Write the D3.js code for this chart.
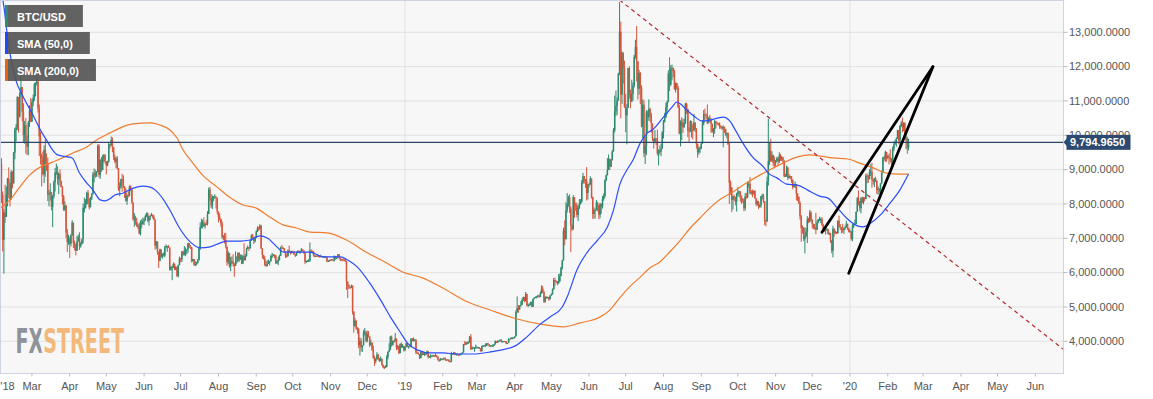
<!DOCTYPE html>
<html><head><meta charset="utf-8">
<script src="https://cdn.jsdelivr.net/npm/d3@7"></script>
<style>
html,body{margin:0;padding:0;background:#fff;}
svg{display:block;font-family:"Liberation Sans",Arial,sans-serif;}
</style></head><body>
<svg id="c" width="1153" height="399"></svg>
<script>
// ---------------- DATA ----------------
// Daily BTC/USD candles, one block per calendar month. First block starts 2018-02-03.
// Open of each day = previous day's close (24/7 market); first open given below.
const firstOpen = 8852;
const monthKeys = ["2018-02","2018-03","2018-04","2018-05","2018-06","2018-07","2018-08","2018-09","2018-10","2018-11","2018-12",
  "2019-01","2019-02","2019-03","2019-04","2019-05","2019-06","2019-07","2019-08","2019-09","2019-10","2019-11","2019-12",
  "2020-01","2020-02"];
const firstBlockDay = 3;

const close = [
 [9174,8277,6955,7754,7621,8265,8736,8621,8129,8926,8599,9494,10166,10233,11112,10551,11225,11404,10690,10005,10301,9813,9664,10366,10725,10397],
 [10951,11086,11489,11512,11573,10780,9965,9396,9337,8866,9578,9205,9194,8269,8300,8338,7916,8223,8630,8913,8929,8728,8879,8668,8495,8209,7833,7954,7165,6891,6973],
 [6844,7083,7456,6854,6811,6636,6911,7023,6770,6834,6968,7889,7895,7986,8329,8059,7903,8163,8294,8845,8895,8802,8930,9697,8845,9281,8987,9348,9419,9240],
 [9119,9235,9743,9700,9859,9654,9373,9234,9325,9043,8441,8504,8723,8716,8510,8368,8094,8250,8247,8514,8418,8041,7557,7587,7480,7355,7369,7136,7472,7406,7494],
 [7541,7643,7720,7514,7633,7653,7678,7625,7531,6786,6906,6582,6349,6675,6456,6550,6499,6734,6769,6776,6729,6084,6163,6173,6250,6094,6157,5903,6218,6404],
 [6386,6614,6529,6597,6639,6673,6857,6773,6741,6329,6394,6228,6238,6276,6359,6742,7322,7378,7470,7355,7419,7418,7711,8424,8182,7951,8166,8192,8218,8180,7780],
 [7625,7567,7434,7032,7068,6951,6753,6305,6569,6184,6296,6330,6263,6200,6309,6330,6581,6379,6463,6263,6477,6361,6488,6685,6741,6712,6930,7084,7033,6915,7019],
 [7202,7301,7270,7370,6705,6515,6412,6219,6186,6251,6299,6329,6487,6487,6524,6502,6269,6334,6360,6489,6730,6721,6712,6611,6482,6477,6650,6632,6571,6604],
 [6590,6530,6495,6587,6635,6594,6614,6680,6645,6591,6311,6339,6341,6351,6641,6640,6611,6498,6482,6488,6486,6475,6468,6477,6465,6452,6464,6453,6331,6338,6371],
 [6360,6388,6361,6485,6411,6455,6531,6422,6355,6383,6378,6371,6326,5739,5648,5575,5554,5623,4871,4451,4602,4366,4347,3880,4010,3823,3880,4252,4274,4017],
 [4214,4139,3894,3956,3753,3521,3419,3476,3614,3502,3424,3487,3313,3243,3236,3252,3545,3697,3746,4134,3896,4014,3998,4078,3815,3857,3654,3923,3820,3865,3742],
 [3843,3943,3837,3858,3846,4077,4026,4030,4035,3678,3657,3628,3510,3686,3601,3633,3655,3617,3701,3536,3568,3578,3553,3591,3577,3585,3557,3468,3432,3487,3476],
 [3487,3521,3464,3459,3466,3414,3401,3626,3642,3674,3615,3630,3611,3594,3614,3636,3674,3911,3906,3966,3931,3970,4133,3764,3820,3808,3808,3823],
 [3824,3831,3787,3710,3862,3876,3877,3863,3944,3915,3871,3878,3857,3867,3908,4003,3981,3987,4016,4044,3984,3995,4005,4000,3937,3952,4070,4064,4106,4106,4105],
 [4146,4858,4973,4923,5037,5060,5199,5289,5169,5382,5050,5059,5060,5143,5003,5234,5269,5284,5292,5330,5295,5396,5532,5426,5154,5276,5277,5284,5222,5334],
 [5365,5518,5786,5763,5753,5683,5759,5897,6146,6354,7230,6972,7815,7995,8196,7868,7364,7264,8197,7978,7964,7681,7881,8004,8072,8618,8805,8719,8659,8319,8575],
 [8564,8742,8209,7708,7824,7822,8043,7954,7688,8000,7927,8146,8230,8693,8838,8995,9313,9081,9274,9530,10144,10701,10855,11011,11790,13017,11183,12407,11960,10818],
 [10578,10801,11961,11215,10979,11208,11450,12285,12573,12156,11358,11815,11392,10256,10895,9477,9693,10666,10530,10767,10599,10343,9900,9811,9911,9871,9477,9552,9519,9607,10085],
 [10400,10519,10821,10970,11805,11478,11941,11966,11862,11354,11523,11383,10822,10052,10311,10374,10231,10345,10918,10764,10138,10131,10407,10160,10138,10370,10185,9754,9510,9598,9630],
 [9757,10347,10623,10594,10575,10353,10517,10441,10334,10115,10178,10410,10360,10358,10347,10276,10241,10199,10247,10180,10019,10070,9730,8621,8486,8119,8219,8195,8067,8294],
 [8344,8368,8241,8151,8127,7877,8217,8204,8588,8589,8322,8337,8322,8377,8165,7994,8057,7917,7961,8224,8243,8076,7513,7493,8661,9244,9551,9256,9427,9205,9199],
 [9261,9324,9235,9413,9320,9360,9267,8805,8813,9055,8757,8815,8808,8708,8491,8550,8577,8309,8206,8027,7642,7297,7296,6977,7063,7198,7549,7488,7754,7546],
 [7424,7321,7320,7253,7448,7547,7556,7564,7400,7278,7218,7243,7269,7124,7152,6932,6640,7277,7150,7187,7145,7511,7355,7322,7275,7238,7290,7317,7422,7293,7193],
 [7200,6985,7345,7410,7411,7769,8163,8080,7879,8166,8037,8192,8144,8828,8807,8723,8929,8943,8706,8658,8745,8680,8406,8445,8367,8596,8910,9358,9316,9508,9350],
 [9393,9345,9293,9180,9613,9730,9796,9902,10152,9851,10267,10350,10235,10360,9900,9910,9650,9795]
];
const high = [
 [9430,9334,8364,7850,8559,8509,8760,9066,8566,8985,8958,9518,10219,10324,11139,11079,11274,11786,11304,10935,10420,10502,9998,10421,10878,11089],
 [11048,11190,11528,11550,11711,11574,10900,10100,9466,9531,9708,9889,9470,9355,8415,8604,8346,8260,8683,9051,9177,9100,8918,9007,8682,8528,8262,8081,7968,7275,7103],
 [7049,7125,7530,7457,6933,6856,7070,7110,7178,6892,6990,8012,8183,8140,8358,8409,8168,8204,8310,8930,9035,9001,8958,9732,9746,9307,9371,9429,9455,9456],
 [9240,9256,9788,9746,9965,9940,9658,9441,9370,9400,9036,8630,8734,8880,8836,8508,8462,8274,8364,8539,8540,8423,8042,7734,7659,7597,7432,7436,7526,7559,7604],
 [7599,7695,7753,7754,7650,7689,7741,7701,7681,7560,6920,6906,6618,6700,6675,6557,6589,6780,6823,6782,6803,6731,6192,6204,6301,6270,6190,6174,6237,6466],
 [6432,6625,6640,6776,6733,6676,6870,6777,6802,6741,6406,6394,6332,6311,6395,6760,7466,7572,7539,7613,7451,7528,7791,8480,8500,8290,8253,8232,8286,8218,8171],
 [7760,7727,7567,7497,7088,7150,7160,6753,6625,6577,6456,6473,6536,6274,6620,6476,6582,6590,6529,6526,6518,6854,6539,6729,6792,6741,6949,7115,7129,7034,7054],
 [7230,7348,7340,7410,7388,6706,6515,6481,6345,6359,6378,6332,6523,6576,6545,6526,6510,6372,6463,6520,6758,6806,6754,6715,6611,6553,6671,6788,6635,6635],
 [6642,6621,6546,6609,6646,6642,6628,6714,6686,6646,6593,6355,6361,6399,6880,6678,6640,6615,6513,6504,6537,6518,6494,6526,6484,6480,6474,6478,6457,6361,6375],
 [6386,6391,6388,6500,6480,6456,6540,6540,6434,6391,6409,6423,6393,6347,5739,5647,5580,5653,5620,4871,4682,4607,4413,4393,4110,4089,3882,4332,4387,4307],
 [4309,4301,4139,4054,3968,3874,3578,3512,3685,3634,3515,3562,3504,3330,3275,3305,3597,3701,3944,4160,4168,4015,4040,4240,4079,3900,3873,3940,3965,3921,3868],
 [3851,3947,3950,3865,3904,4093,4092,4109,4072,4064,3710,3674,3623,3703,3689,3674,3659,3660,3734,3719,3574,3624,3597,3610,3592,3651,3598,3557,3475,3509,3504],
 [3501,3521,3521,3476,3478,3469,3428,3695,3649,3690,3674,3650,3655,3621,3648,3651,3682,3925,4007,3986,3999,3997,4154,4211,3859,3822,3829,3906],
 [3858,3833,3833,3796,3871,3891,3898,3942,3951,3945,3921,3893,3884,3918,3920,4027,4006,4032,4020,4050,4058,4003,4011,4006,4000,3958,4089,4076,4113,4126,4111],
 [4155,4905,5306,5057,5050,5171,5249,5302,5289,5438,5382,5099,5103,5152,5167,5241,5286,5305,5323,5360,5340,5456,5631,5609,5469,5319,5303,5304,5295,5342],
 [5398,5537,5842,5855,5766,5754,5958,5978,6170,6376,7310,7522,8050,8320,8240,8284,7930,7400,8260,8200,8040,8040,7951,8140,8145,8700,8907,8818,8731,9074,8586],
 [8625,8809,8743,8210,7901,7869,8115,8060,7975,8034,8013,8230,8310,8720,8859,9335,9441,9320,9310,9575,10209,11157,11305,11098,11820,13880,13311,12445,12400,12178],
 [11206,10909,11968,12007,11333,11620,11538,12345,12783,13183,12103,11905,11841,11453,11052,11025,9964,10736,10716,11048,10803,10657,10343,9908,10154,9916,10167,9591,9701,9749,10120],
 [10446,10657,10946,11009,11895,12274,12044,12061,11970,11915,11540,11528,11441,10889,10437,10524,10474,10487,10950,10947,10771,10232,10442,10419,10319,10625,10382,10213,9754,9669,9673],
 [9800,10442,10736,10779,10635,10898,10527,10595,10496,10340,10210,10445,10420,10384,10356,10376,10285,10274,10290,10247,10185,10075,10074,9776,8683,8490,8234,8271,8210,8325],
 [8497,8385,8368,8228,8172,8156,8317,8322,8657,8642,8784,8403,8420,8391,8410,8165,8098,8090,8007,8237,8300,8298,8076,7540,8800,10480,9795,9900,9532,9432,9383],
 [9279,9375,9368,9505,9456,9392,9374,9273,8879,9119,9090,8878,8830,8806,8707,8590,8659,8581,8276,8219,8080,7679,7376,7330,7316,7299,7643,7600,7826,7793],
 [7547,7426,7418,7744,7531,7563,7629,7600,7618,7424,7283,7266,7301,7276,7174,7153,6944,7366,7293,7225,7185,7520,7659,7418,7322,7423,7320,7363,7510,7422,7308],
 [7255,7212,7413,7428,7544,7781,8207,8396,8083,8200,8218,8197,8197,8880,8890,8846,9010,9165,9194,8745,8760,8792,8680,8514,8458,8602,8977,9368,9406,9553,9521],
 [9431,9468,9596,9341,9670,9824,9872,9938,10158,10156,10303,10420,10520,10380,10380,10050,9960,9900]
];
const low = [
 [8251,8031,6620,5970,7449,7729,7931,8163,7931,8129,8455,8599,9301,9824,10149,10080,10513,11100,10408,9800,9757,9464,9427,9418,10246,10393],
 [10393,10850,11002,11136,11443,10661,9394,9150,8513,8828,8607,8791,8958,8083,7931,8097,7812,7323,8160,8363,8846,8564,8289,8536,8488,7986,7797,7799,7003,6600,6811],
 [6430,6766,7071,6717,6645,6500,6634,6906,6662,6726,6817,6853,7755,7868,7986,7999,7837,7907,8115,8264,8627,8760,8795,8937,8773,8727,8932,8988,9217,9175],
 [8862,9100,9205,9616,9705,9507,9282,9186,9040,9009,8381,8226,8453,8353,8463,8175,8064,7974,8192,8226,8372,8003,7509,7337,7392,7330,7270,7121,7081,7291,7404],
 [7383,7503,7613,7474,7367,7531,7643,7579,7530,6668,6694,6523,6138,6331,6434,6410,6470,6446,6708,6607,6716,6061,6060,5780,6136,6074,6070,5870,5861,6217],
 [6297,6311,6492,6500,6479,6533,6576,6719,6689,6300,6329,6197,6193,6212,6268,6362,6662,7286,7285,7331,7285,7397,7377,7743,8100,7878,7850,8080,8155,7867,7696],
 [7463,7522,7338,6984,6940,6848,6706,6201,6249,6146,6041,6249,6176,5880,6193,6263,6330,6307,6375,6246,6252,6340,6366,6463,6707,6627,6691,6927,6992,6834,6878],
 [7016,7182,7216,7254,6684,6408,6378,6191,6173,6247,6262,6209,6339,6426,6476,6419,6256,6263,6217,6355,6499,6681,6689,6599,6425,6445,6477,6594,6522,6557],
 [6565,6518,6456,6497,6563,6572,6550,6608,6634,6547,6247,6282,6311,6318,6307,6575,6564,6464,6446,6458,6479,6462,6439,6455,6449,6432,6447,6450,6303,6320,6320],
 [6335,6358,6327,6327,6381,6388,6455,6395,6347,6355,6330,6358,6309,5500,5260,5519,5534,5554,4778,4252,4420,4340,4224,3800,3585,3701,3689,3881,4170,3969],
 [3970,4110,3832,3870,3720,3490,3285,3356,3470,3450,3397,3419,3295,3220,3191,3233,3252,3474,3681,3744,3841,3873,3950,3998,3743,3760,3629,3656,3800,3822,3707],
 [3707,3818,3826,3784,3836,3827,4000,3996,4021,3628,3636,3607,3480,3516,3583,3601,3576,3592,3616,3500,3519,3503,3540,3555,3544,3560,3523,3441,3400,3434,3459],
 [3447,3469,3431,3442,3451,3398,3398,3391,3617,3612,3600,3581,3591,3574,3602,3612,3628,3674,3890,3894,3910,3935,3967,3753,3764,3777,3694,3787],
 [3815,3791,3775,3702,3704,3838,3860,3844,3863,3896,3841,3837,3851,3838,3866,3909,3953,3955,3980,4004,3966,3981,3985,3983,3915,3932,3951,4045,4063,4058,4090],
 [4083,4146,4820,4830,4923,5013,5060,5175,5138,5169,5024,4989,5044,5050,4990,5002,5225,5264,5251,5291,5263,5294,5388,5403,5117,5125,5250,5251,5181,5222],
 [5328,5363,5500,5615,5705,5631,5683,5725,5896,6090,6355,6799,6972,7743,7920,7740,6600,7211,7251,7600,7800,7605,7502,7853,7980,8032,8583,8592,8470,8100,8130],
 [8481,8561,8155,7564,7572,7571,7811,7781,7556,7583,7715,7866,8094,8183,8658,8832,9006,8982,9077,9268,9526,10084,10575,10581,11007,11755,10491,10915,11508,10799],
 [10089,9737,10798,11067,10786,10996,11014,11393,12233,11569,11042,11180,10908,10234,9916,9366,9164,9421,10080,10423,10399,10077,9833,9614,9773,9717,9411,9121,9437,9390,9599],
 [9908,10371,10503,10620,10960,11290,11431,11601,11683,11323,11248,11320,10785,10029,9675,9856,10071,10232,10330,10618,9944,9811,10088,9936,9881,10138,10093,9613,9350,9436,9486],
 [9596,9757,10291,10431,10482,10325,10353,10380,10072,10070,9945,10046,10200,10306,10280,10189,10191,10158,9650,10067,9974,9910,9724,8000,8264,7760,7836,8092,7959,7780],
 [8226,8193,8064,8007,8029,7787,7810,8152,8170,8474,8283,8270,8197,8268,8153,7938,7955,7847,7890,7894,8137,8029,7380,7350,7482,8533,9141,9224,9223,9100,9040],
 [9090,9220,9141,9191,9257,9250,9170,8779,8793,8793,8697,8741,8731,8616,8428,8484,8466,8105,8085,8000,7546,6900,7136,6923,6560,7037,6864,7444,7463,7496],
 [7285,7267,7251,7118,7240,7436,7507,7443,7365,7246,7189,7112,7223,7111,7093,6868,6565,6446,7047,7134,7124,7142,7303,7240,7146,7161,7127,7254,7317,7240,7173],
 [7175,6935,6915,7300,7400,7409,7768,7956,7790,7727,8030,7985,8079,8141,8601,8612,8721,8815,8472,8560,8492,8636,8296,8266,8296,8325,8597,8908,9256,9230,9230],
 [9303,9150,9225,9101,9170,9539,9728,9665,9900,9740,9720,10252,10085,10120,9860,9600,9460,9560]
];

// SMA (50,0)
const sma50Dates = ["2018-02-03","2018-02-06","2018-02-09","2018-02-15","2018-02-22","2018-03-01","2018-03-08","2018-03-13","2018-03-18","2018-03-22",
 "2018-03-30","2018-04-03","2018-04-09","2018-04-15","2018-04-20","2018-04-26","2018-04-30","2018-05-04","2018-05-08","2018-05-15",
 "2018-05-20","2018-05-26","2018-05-31","2018-06-06","2018-06-10","2018-06-17","2018-06-22","2018-06-30","2018-07-09","2018-07-17",
 "2018-07-25","2018-08-02","2018-08-08","2018-08-19","2018-08-27","2018-09-04","2018-09-10","2018-09-18","2018-09-23","2018-10-04",
 "2018-10-15","2018-10-26","2018-11-09","2018-11-15","2018-11-23","2018-12-03","2018-12-12","2018-12-20","2018-12-28","2019-01-03",
 "2019-01-11","2019-01-22","2019-02-01","2019-02-13","2019-02-26","2019-03-12","2019-04-01","2019-04-11","2019-04-22","2019-04-30",
 "2019-05-10","2019-05-14","2019-05-22","2019-05-30","2019-06-08","2019-06-16","2019-06-21","2019-06-26","2019-07-02","2019-07-07",
 "2019-07-13","2019-07-19","2019-07-23","2019-08-01","2019-08-08","2019-08-12","2019-08-15","2019-08-20","2019-08-27","2019-09-02",
 "2019-09-08","2019-09-14","2019-09-19","2019-09-25","2019-09-29","2019-10-05","2019-10-13","2019-10-22","2019-10-26","2019-11-02",
 "2019-11-10","2019-11-19","2019-11-27","2019-12-07","2019-12-14","2019-12-21","2019-12-30","2020-01-07","2020-01-12","2020-01-17",
 "2020-01-26","2020-02-03","2020-02-11","2020-02-18"];
const sma50Values = [14300,13750,12860,11700,11110,10650,10150,9860,9570,9430,
 9370,9340,8900,8610,8410,8120,8090,8150,8260,8320,
 8410,8490,8520,8490,8410,8120,7830,7300,6890,6720,
 6750,6860,6920,6920,6950,7070,7010,6750,6600,6600,
 6600,6460,6460,6370,6160,5700,5200,4710,4270,3950,
 3750,3660,3660,3630,3630,3690,3860,4130,4500,4710,
 5000,5290,6080,6570,6950,7330,7820,8550,8990,9280,
 9780,10070,10160,10530,10820,10970,10910,10740,10530,10410,
 10440,10500,10530,10390,10150,9780,9370,9080,8900,8760,
 8580,8550,8410,8230,8170,7910,7560,7360,7330,7420,
 7680,8030,8410,8870];

// SMA (200,0)
const sma200Dates = ["2018-02-03","2018-02-11","2018-02-19","2018-02-27","2018-03-08","2018-03-16","2018-03-24","2018-04-04","2018-04-15","2018-04-23",
 "2018-05-04","2018-05-12","2018-05-23","2018-06-06","2018-06-14","2018-06-22","2018-06-28","2018-07-03","2018-07-11","2018-07-19",
 "2018-07-31","2018-08-10","2018-08-21","2018-09-01","2018-09-12","2018-09-23","2018-10-04","2018-10-15","2018-10-29","2018-11-14",
 "2018-11-30","2018-12-17","2018-12-30","2019-01-16","2019-02-01","2019-02-21","2019-03-12","2019-03-31","2019-04-22","2019-05-11",
 "2019-05-24","2019-06-10","2019-06-18","2019-06-26","2019-07-04","2019-07-13","2019-07-21","2019-07-29","2019-08-06","2019-08-15",
 "2019-08-23","2019-08-31","2019-09-08","2019-09-16","2019-09-27","2019-10-08","2019-10-19","2019-10-27","2019-11-07","2019-11-19",
 "2019-11-29","2019-12-07","2019-12-18","2019-12-30","2020-01-09","2020-01-20","2020-01-31","2020-02-11","2020-02-18"];
const sma200Values = [7880,8120,8490,8840,9080,9190,9310,9490,9660,9860,
 10070,10210,10330,10360,10300,10160,9920,9570,9190,8840,
 8490,8200,7970,7880,7620,7390,7300,7180,7160,6950,
 6600,6280,6020,5840,5550,5150,4910,4680,4500,4420,
 4530,4710,4910,5260,5580,5870,6140,6310,6600,6950,
 7300,7590,7880,8120,8350,8610,8840,8990,9190,9370,
 9430,9400,9340,9310,9190,9050,8900,8870,8870];

// Drawn trendline (red dashed) and rising wedge (black)
const trendDates = ["2019-06-26","2020-06-24"];
const trendValues = [13941, 3767];
const wedgeUpperDates = ["2019-12-09","2020-03-09"];
const wedgeUpperValues = [7175, 11998];
const wedgeLowerDates = ["2019-12-31","2020-03-09"];
const wedgeLowerValues = [5981, 11998];

const lastPrice = 9794.965;
const yTickValues = [4000,5000,6000,7000,8000,9000,10000,11000,12000,13000];
const xTickLabels = ["'18","Mar","Apr","May","Jun","Jul","Aug","Sep","Oct","Nov","Dec",
 "'19","Feb","Mar","Apr","May","Jun","Jul","Aug","Sep","Oct","Nov","Dec",
 "'20","Feb","Mar","Apr","May","Jun"];
const legendLabels = ["BTC/USD","SMA (50,0)","SMA (200,0)"];

// ---------------- CHART ----------------
const W = 1153, H = 399;
const PL = 0.5, PT = 0.5, PR = 1063.5, PB = 373.5;
const svg = d3.select("#c");
const parse = d3.utcParse("%Y-%m-%d");

const x = d3.scaleUtc().domain([Date.UTC(2018,1,6), Date.UTC(2020,0,1)]).range([3.9, 850]);
const y = d3.scaleLinear().domain([4000, 13000]).range([341.3, 32.3]);

// build candles
const candles = [];
let prev = firstOpen;
const warnings = [];
close.forEach((blk, m) => {
  const [yy, mm] = monthKeys[m].split("-").map(Number);
  const startDay = m === 0 ? firstBlockDay : 1;
  const dim = new Date(Date.UTC(yy, mm, 0)).getUTCDate();
  if (m < close.length - 1 && blk.length !== dim - startDay + 1) warnings.push(monthKeys[m] + " close " + blk.length);
  if (high[m].length !== blk.length) warnings.push(monthKeys[m] + " high " + high[m].length);
  if (low[m].length !== blk.length) warnings.push(monthKeys[m] + " low " + low[m].length);
  blk.forEach((c, i) => {
    candles.push({date: new Date(Date.UTC(yy, mm - 1, startDay + i)), o: prev, h: high[m][i], l: low[m][i], c});
    prev = c;
  });
});

// background
svg.append("rect").attr("x", 0).attr("y", 0).attr("width", W).attr("height", H).attr("fill", "#fff");
svg.append("rect").attr("x", PL).attr("y", PT).attr("width", PR - PL).attr("height", PB - PT)
  .attr("fill", "#f7f7f7");

const defs = svg.append("defs");
defs.append("clipPath").attr("id", "plotclip").append("rect")
  .attr("x", 1).attr("y", 0).attr("width", PR - 1).attr("height", PB);

// watermark colour split: grey "FX", orange "STREET" within one text
const wmX0 = 15.5, wmW = 108.5, wmSplit = 41.2;
const grad = defs.append("linearGradient").attr("id", "wmgrad").attr("gradientUnits", "userSpaceOnUse")
  .attr("x1", wmX0).attr("x2", wmX0 + wmW).attr("y1", 0).attr("y2", 0);
const f = (wmSplit - wmX0) / wmW;
grad.append("stop").attr("offset", 0).attr("stop-color", "#8e929a");
grad.append("stop").attr("offset", f).attr("stop-color", "#8e929a");
grad.append("stop").attr("offset", f).attr("stop-color", "#f2b87c");
grad.append("stop").attr("offset", 1).attr("stop-color", "#f2b87c");

// grid
const grid = svg.append("g");
grid.selectAll("line.h").data(yTickValues).join("line")
  .attr("x1", 1).attr("x2", PR).attr("y1", d => y(d)).attr("y2", d => y(d))
  .attr("stroke", "#e2e2e2").attr("stroke-width", 1);
const yearStarts = [new Date(Date.UTC(2019,0,1)), new Date(Date.UTC(2020,0,1))];
grid.selectAll("line.v").data(yearStarts).join("line")
  .attr("x1", d => x(d)).attr("x2", d => x(d)).attr("y1", 1).attr("y2", PB)
  .attr("stroke", "#e2e2e2").attr("stroke-width", 1);

// watermark
svg.append("text").attr("x", wmX0).attr("y", 352.5)
  .attr("font-family", "'Liberation Sans Narrow','DejaVu Sans Condensed',sans-serif")
  .attr("font-weight", "bold").attr("font-size", 34)
  .attr("textLength", wmW).attr("lengthAdjust", "spacingAndGlyphs")
  .attr("fill", "url(#wmgrad)").text("FXSTREET");

const plot = svg.append("g").attr("clip-path", "url(#plotclip)");

// candles
const UP = "#2a8a6e", DOWN = "#d4563d";
const cg = plot.append("g");
cg.selectAll("rect.w").data(candles).join("rect")
  .attr("x", d => x(d.date) - 0.5).attr("width", 1)
  .attr("y", d => y(Math.max(d.h, d.o, d.c)))
  .attr("height", d => Math.max(1, y(Math.min(d.l, d.o, d.c)) - y(Math.max(d.h, d.o, d.c))))
  .attr("fill", d => d.c >= d.o ? UP : DOWN);
cg.selectAll("rect.b").data(candles).join("rect")
  .attr("x", d => x(d.date) - 0.75).attr("width", 1.5)
  .attr("y", d => y(Math.max(d.o, d.c)))
  .attr("height", d => Math.max(1, y(Math.min(d.o, d.c)) - y(Math.max(d.o, d.c))))
  .attr("fill", d => d.c >= d.o ? UP : DOWN);

// SMAs
const line = d3.line().x(d => x(d[0])).y(d => y(d[1])).curve(d3.curveMonotoneX);
const s200 = sma200Dates.map((d, i) => [parse(d), sma200Values[i]]);
const s50 = sma50Dates.map((d, i) => [parse(d), sma50Values[i]]);
plot.append("path").attr("d", line(s200)).attr("fill", "none").attr("stroke", "#f07d2e").attr("stroke-width", 1.2);
plot.append("path").attr("d", line(s50)).attr("fill", "none").attr("stroke", "#2b4cff").attr("stroke-width", 1.2);

// price line
plot.append("line").attr("x1", 1).attr("x2", PR).attr("y1", y(lastPrice)).attr("y2", y(lastPrice))
  .attr("stroke", "#2b4468").attr("stroke-width", 1.3);

// trendline + wedge
const seg = (ds, vs) => ds.map((d, i) => [parse(d), vs[i]]);
const straight = d3.line().x(d => x(d[0])).y(d => y(d[1]));
plot.append("path").attr("d", straight(seg(trendDates, trendValues))).attr("fill", "none")
  .attr("stroke", "#b3282d").attr("stroke-width", 1.2).attr("stroke-dasharray", "4,3.5");
plot.append("path").attr("d", straight(seg(wedgeUpperDates, wedgeUpperValues))).attr("fill", "none")
  .attr("stroke", "#000").attr("stroke-width", 2.8).attr("stroke-linecap", "round");
plot.append("path").attr("d", straight(seg(wedgeLowerDates, wedgeLowerValues))).attr("fill", "none")
  .attr("stroke", "#000").attr("stroke-width", 2.8).attr("stroke-linecap", "round");

// plot border
svg.append("rect").attr("x", PL).attr("y", PT).attr("width", PR - PL).attr("height", PB - PT)
  .attr("fill", "none").attr("stroke", "#cdd3e3").attr("stroke-width", 1);

// legend
const legendColors = ["#2e8c76", "#1f48ff", "#e8640f"];
const lg = svg.append("g");
legendLabels.forEach((t, i) => {
  const top = 5 + i * 27;
  const g = lg.append("g");
  const bg = g.append("rect").attr("x", 5).attr("y", top).attr("height", 22).attr("fill", "#555").attr("fill-opacity", 0.92);
  g.append("rect").attr("x", 5).attr("y", top).attr("width", 3).attr("height", 22).attr("fill", legendColors[i]);
  const tx = g.append("text").attr("x", 17).attr("y", top + 15.7).attr("fill", "#fff")
    .attr("font-size", 11).attr("font-weight", "bold").text(t);
  const len = tx.node().getComputedTextLength();
  bg.attr("width", 12 + len + 17);
});

// y axis
const fmt = d3.format(",.4f");
const ya = svg.append("g");
ya.selectAll("line").data(yTickValues).join("line")
  .attr("x1", PR).attr("x2", PR + 4).attr("y1", d => y(d)).attr("y2", d => y(d)).attr("stroke", "#b9b9b9");
ya.selectAll("text").data(yTickValues).join("text")
  .attr("x", 1069).attr("y", d => y(d)).attr("dy", "0.35em")
  .attr("font-size", 11).attr("fill", "#555").text(d => fmt(d));

// x axis
const monthTicks = d3.utcMonth.range(new Date(Date.UTC(2018,1,1)), new Date(Date.UTC(2020,6,1)));
const xa = svg.append("g");
monthTicks.forEach((d, i) => {
  const px = x(d);
  if (px >= 1 && px <= PR) {
    xa.append("line").attr("x1", px).attr("x2", px).attr("y1", PB).attr("y2", PB + 3).attr("stroke", "#b9b9b9");
  }
  xa.append("text").attr("x", Math.max(px, 7.5)).attr("y", 390).attr("text-anchor", "middle")
    .attr("font-size", 11).attr("fill", "#555").text(xTickLabels[i]);
});

// price label (covers the 10,000 tick label, as in the original)
const py = y(lastPrice);
const pl = svg.append("g");
pl.append("path").attr("d", `M${PR},${py} L${PR + 3.5},${py - 4} L${PR + 3.5},${py + 4} Z`).attr("fill", "#2c4a6f");
pl.append("rect").attr("x", PR + 3).attr("y", py - 7.5).attr("width", 64).attr("height", 15).attr("fill", "#2c4a6f");
pl.append("text").attr("x", PR + 6.5).attr("y", py).attr("dy", "0.36em").attr("font-size", 11)
  .attr("font-weight", "bold").attr("fill", "#fff").text(fmt(lastPrice));

if (warnings.length) {
  svg.append("text").attr("x", 300).attr("y", 20).attr("fill", "red").attr("font-size", 14).text("CHECK: " + warnings.join("; "));
}
</script>
</body></html>
